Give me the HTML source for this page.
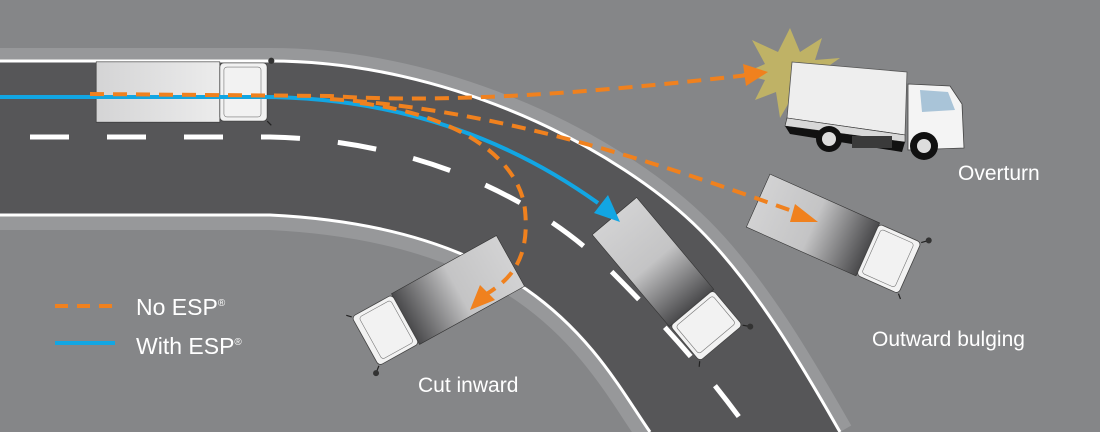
<!DOCTYPE html>
<html><head><meta charset="utf-8"><style>
html,body{margin:0;padding:0;background:#858688;}
svg{display:block}
text{font-family:"Liberation Sans",sans-serif;fill:#fff}
</style></head><body>
<svg width="1100" height="432" viewBox="0 0 1100 432" xmlns="http://www.w3.org/2000/svg">
<defs>
<linearGradient id="bx" x1="0" y1="0" x2="1" y2="0">
<stop offset="0" stop-color="#d2d2d3"/><stop offset="0.5" stop-color="#c4c4c5"/><stop offset="1" stop-color="#4a4a4c"/>
</linearGradient>
<linearGradient id="bxf" x1="0" y1="0" x2="1" y2="0">
<stop offset="0" stop-color="#d4d4d5"/><stop offset="1" stop-color="#ececec"/>
</linearGradient>
<g id="truck">
<rect x="-60" y="-29" width="120" height="58" fill="url(#bx)" stroke="#333" stroke-width="0.6"/>
<rect x="60" y="-28" width="46" height="56" rx="4" fill="#f2f2f2" stroke="#444" stroke-width="0.8"/>
<rect x="64" y="-24" width="36" height="48" rx="3" fill="none" stroke="#777" stroke-width="0.6"/>
<line x1="106" y1="-28" x2="112" y2="-33" stroke="#222" stroke-width="1.2"/>
<circle cx="112" cy="-33" r="3" fill="#333"/>
<line x1="106" y1="28" x2="110" y2="32" stroke="#222" stroke-width="1.2"/>
</g>
</defs>
<rect width="1100" height="432" fill="#858688"/>
<!-- shoulders -->
<path d="M0,61 L270,61 C 450,61 620,150 700,230 C 760,290 810,380 840,432" fill="none" stroke="#97989a" stroke-width="26"/>
<path d="M0,215 L270,215 C 540,228 600,360 650,432" fill="none" stroke="#97989a" stroke-width="30"/>
<!-- road -->
<path d="M0,61 L270,61 C 450,61 620,150 700,230 C 760,290 810,380 840,432 L650,432 C 600,360 540,228 270,215 L0,215 Z" fill="#565658"/>
<!-- edge lines -->
<path d="M0,61 L270,61 C 450,61 620,150 700,230 C 760,290 810,380 840,432" fill="none" stroke="#fff" stroke-width="3"/>
<path d="M0,215 L270,215 C 540,228 600,360 650,432" fill="none" stroke="#fff" stroke-width="3"/>
<!-- center dashes -->
<path d="M30,137 L270,137 C 420,140 540,200 610,270 C 680,340 720,390 750,432" fill="none" stroke="#fff" stroke-width="5" stroke-dasharray="39,38"/>
<!-- trucks on road -->
<g transform="translate(158,92) scale(1.03,1.04)"><rect x="-60" y="-29" width="120" height="58" fill="url(#bxf)" stroke="#333" stroke-width="0.6"/>
<rect x="60" y="-28" width="46" height="56" rx="4" fill="#f2f2f2" stroke="#444" stroke-width="0.8"/>
<rect x="64" y="-24" width="36" height="48" rx="3" fill="none" stroke="#777" stroke-width="0.6"/>
<circle cx="110" cy="-30" r="3" fill="#333"/><line x1="106" y1="28" x2="110" y2="32" stroke="#222" stroke-width="1.2"/></g>
<use href="#truck" transform="translate(653,262) rotate(50)"/>
<use href="#truck" transform="translate(458,290) rotate(151)"/>
<use href="#truck" transform="translate(813,225) rotate(24)"/>
<!-- starburst -->
<polygon points="790,28 800,52 822,38 815,60 840,58 820,72 835,88 812,86 808,110 795,92 780,118 776,92 755,100 765,80 742,74 765,64 752,40 778,52" fill="#bfb266"/>
<!-- overturned truck side view -->
<polygon points="792,62 907,72 905,135 787,118" fill="#eeeeee" stroke="#555" stroke-width="0.8"/>
<polygon points="787,118 905,135 905,142 785,126" fill="#d8d8d8" stroke="#333" stroke-width="0.6"/>
<polygon points="785,126 905,142 902,152 790,134" fill="#111"/>
<rect x="852" y="136" width="40" height="12" fill="#3a3a3a"/>
<path d="M908,84 L950,86 L962,104 L964,148 L908,150 Z" fill="#f4f4f4" stroke="#444" stroke-width="0.8"/>
<path d="M920,90 L948,92 L955,110 L922,112 Z" fill="#a9c4d8"/>
<circle cx="829" cy="139" r="13" fill="#111"/><circle cx="829" cy="139" r="7" fill="#ddd"/>
<circle cx="924" cy="146" r="14" fill="#111"/><circle cx="924" cy="146" r="7" fill="#ddd"/>
<!-- blue path -->
<path d="M0,97 L260,97 C 400,97 510,140 598,203" fill="none" stroke="#12a6e3" stroke-width="4"/>
<polygon points="620,222 594,213 608,195" fill="#12a6e3"/>
<!-- orange paths -->
<g fill="none" stroke="#f0811e" stroke-width="4" stroke-dasharray="14,9">
<path d="M90,94 L330,96 C 450,104 600,92 748,75"/>
<path d="M330,99 C 500,110 650,160 795,212"/>
<path d="M360,103 C 460,115 520,160 525,210 C 530,260 510,280 485,295"/>
</g>
<polygon points="768,72 743,64 746,86" fill="#f0811e"/>
<polygon points="818,222 795,204 790,222" fill="#f0811e"/>
<polygon points="470,310 480,285 495,300" fill="#f0811e"/>
<!-- legend -->
<line x1="55" y1="306" x2="115" y2="306" stroke="#f0811e" stroke-width="4" stroke-dasharray="13,9"/>
<line x1="55" y1="343" x2="115" y2="343" stroke="#12a6e3" stroke-width="4"/>
<text x="136" y="315" font-size="23">No ESP<tspan font-size="10" dy="-9">®</tspan></text>
<text x="136" y="354" font-size="23">With ESP<tspan font-size="10" dy="-9">®</tspan></text>
<text x="418" y="392" font-size="21">Cut inward</text>
<text x="958" y="180" font-size="21">Overturn</text>
<text x="872" y="346" font-size="21">Outward bulging</text>
</svg>
</body></html>
